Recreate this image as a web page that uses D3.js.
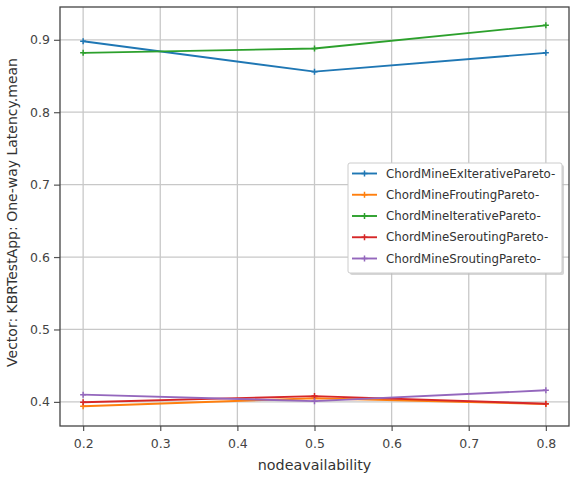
<html>
 <head>
  <script src="https://cdn.jsdelivr.net/npm/d3@7"></script>
  <style>
    body { margin: 0; background: #fff; font-family: "DejaVu Sans", sans-serif; }
  </style>
 </head>
 <body>
 <div id="draw"></div>
 <script>
    // x values (node availability)
    var xs = [0.2, 0.5, 0.8];
    var seriesNames = [
      "ChordMineExIterativePareto-",
      "ChordMineFroutingPareto-",
      "ChordMineIterativePareto-",
      "ChordMineSeroutingPareto-",
      "ChordMineSroutingPareto-"
    ];
    var exIterative = [0.898, 0.856, 0.882];
    var frouting    = [0.394, 0.405, 0.397];
    var iterative   = [0.882, 0.888, 0.920];
    var serouting   = [0.3995, 0.408, 0.3975];
    var srouting    = [0.410, 0.401, 0.416];
    var colors = ["#1f77b4", "#ff7f0e", "#2ca02c", "#d62728", "#9467bd"];
    var xTicks = [0.2, 0.3, 0.4, 0.5, 0.6, 0.7, 0.8];
    var yTicks = [0.4, 0.5, 0.6, 0.7, 0.8, 0.9];

    var allSeries = [exIterative, frouting, iterative, serouting, srouting];

    var W = 570, H = 477;
    var m = {left: 60, right: 1, top: 7, bottom: 51};

    var svg = d3.select('#draw').append('svg').attr('width', W).attr('height', H);

    var x = d3.scaleLinear().domain([0.17, 0.83]).range([m.left, W - m.right]);
    var y = d3.scaleLinear().domain([0.3667, 0.9453]).range([H - m.bottom, m.top]);

    // grid
    var g = svg.append('g');
    g.selectAll('.vg').data(xTicks).enter().append('line')
      .attr('x1', d => x(d)).attr('x2', d => x(d))
      .attr('y1', m.top).attr('y2', H - m.bottom)
      .attr('stroke', '#c8c8c8').attr('stroke-width', 1.3);
    g.selectAll('.hg').data(yTicks).enter().append('line')
      .attr('y1', d => y(d)).attr('y2', d => y(d))
      .attr('x1', m.left).attr('x2', W - m.right)
      .attr('stroke', '#c8c8c8').attr('stroke-width', 1.3);

    // axes
    var xAxis = d3.axisBottom(x).tickValues(xTicks).tickFormat(d3.format('.1f')).tickSize(5).tickSizeOuter(0);
    var yAxis = d3.axisLeft(y).tickValues(yTicks).tickFormat(d3.format('.1f')).tickSize(6).tickSizeOuter(0);
    var ax = svg.append('g').attr('transform', 'translate(0,' + (H - m.bottom) + ')').call(xAxis);
    var ay = svg.append('g').attr('transform', 'translate(' + m.left + ',0)').call(yAxis);
    [ax, ay].forEach(function(a) {
      a.select('.domain').remove();
      a.selectAll('line').attr('stroke', '#555').attr('stroke-width', 1.2);
      a.selectAll('text').attr('font-family', 'DejaVu Sans').attr('font-size', 12.5).attr('fill', '#444');
    });
    ax.selectAll('text').attr('y', 13).attr('dy', '0.71em');
    ay.selectAll('text').attr('x', -10);

    // lines
    var line = d3.line().x((d, i) => x(xs[i])).y(d => y(d));
    allSeries.forEach(function(s, k) {
      svg.append('path').datum(s).attr('d', line)
        .attr('fill', 'none').attr('stroke', colors[k]).attr('stroke-width', 1.9);
      svg.selectAll('.mk' + k).data(s).enter().append('path')
        .attr('d', (d, i) => 'M' + (x(xs[i]) - 3) + ',' + y(d) + 'h6M' + x(xs[i]) + ',' + (y(d) - 3) + 'v6')
        .attr('stroke', colors[k]).attr('stroke-width', 1.5);
    });

    // frame
    svg.append('rect').attr('x', m.left).attr('y', m.top)
      .attr('width', W - m.left - m.right).attr('height', H - m.top - m.bottom)
      .attr('fill', 'none').attr('stroke', '#444').attr('stroke-width', 1.3);

    // labels
    svg.append('text').attr('x', (m.left + W - m.right) / 2).attr('y', 470)
      .attr('text-anchor', 'middle').attr('font-size', 14.3).attr('fill', '#333')
      .text('nodeavailability');
    svg.append('text').attr('transform', 'translate(17,' + ((m.top + H - m.bottom) / 2 - 4) + ') rotate(-90)')
      .attr('text-anchor', 'middle').attr('font-size', 14).attr('fill', '#333')
      .text('Vector: KBRTestApp: One-way Latency.mean');

    // legend
    var lx = 348, ly = 163;
    var leg = svg.append('g');
    leg.append('rect').attr('x', lx + 2).attr('y', ly + 2).attr('width', 214).attr('height', 110)
      .attr('fill', '#bbb').attr('opacity', 0.6).attr('rx', 2);
    leg.append('rect').attr('x', lx).attr('y', ly).attr('width', 214).attr('height', 110)
      .attr('fill', '#fff').attr('stroke', '#ccc').attr('rx', 2);
    seriesNames.forEach(function(n, k) {
      var yy = ly + 10.5 + k * 21.25;
      leg.append('line').attr('x1', lx + 4).attr('x2', lx + 29).attr('y1', yy).attr('y2', yy)
        .attr('stroke', colors[k]).attr('stroke-width', 1.9);
      leg.append('path').attr('d', 'M' + (lx + 13.5) + ',' + yy + 'h6M' + (lx + 16.5) + ',' + (yy - 3) + 'v6')
        .attr('stroke', colors[k]).attr('stroke-width', 1.5);
      leg.append('text').attr('x', lx + 38).attr('y', yy + 4.2).attr('font-size', 11.8).attr('fill', '#333')
        .text(n);
    });
 </script>
 </body>
</html>
